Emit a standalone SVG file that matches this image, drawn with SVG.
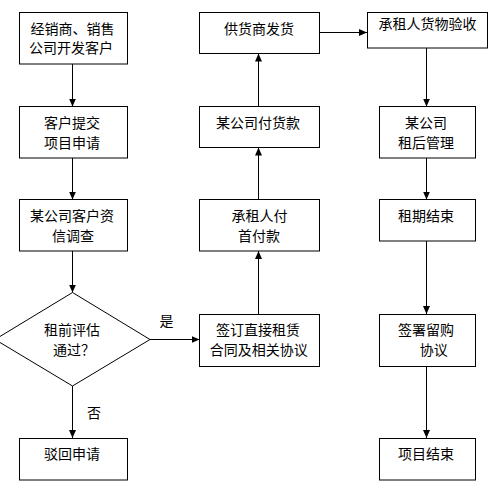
<svg xmlns="http://www.w3.org/2000/svg" width="501" height="496" viewBox="0 0 501 496">
<style>
.box{fill:#fff;stroke:#000;stroke-width:1}
.t{font-family:"Noto Sans CJK SC","Noto Sans",sans-serif;font-size:14px;fill:#000;text-anchor:middle}
.c{stroke:#000;stroke-width:1;fill:none;marker-end:url(#ah)}
</style>
<defs>
<marker id="ah" markerUnits="userSpaceOnUse" markerWidth="8" markerHeight="7" refX="8" refY="3.5" orient="auto">
<path d="M0,0 L8,3.5 L0,7 z" fill="#000"/>
</marker>
</defs>
<rect width="501" height="496" fill="#fff"/>
<g id="connectors">
<line class="c" x1="72.5" y1="64" x2="72.5" y2="106.5"/>
<line class="c" x1="72.5" y1="158" x2="72.5" y2="199.5"/>
<line class="c" x1="72.5" y1="251" x2="72.5" y2="292.5"/>
<line class="c" x1="72.5" y1="386" x2="72.5" y2="438"/>
<line class="c" x1="150" y1="339.5" x2="199.5" y2="339.5"/>
<line class="c" x1="258.5" y1="314" x2="258.5" y2="251"/>
<line class="c" x1="258.5" y1="199.5" x2="258.5" y2="147.5"/>
<line class="c" x1="258.5" y1="106.5" x2="258.5" y2="53.5"/>
<line class="c" x1="320" y1="32.5" x2="367" y2="32.5"/>
<line class="c" x1="426.5" y1="48" x2="426.5" y2="106.5"/>
<line class="c" x1="426.5" y1="158" x2="426.5" y2="199.5"/>
<line class="c" x1="426.5" y1="241" x2="426.5" y2="314"/>
<line class="c" x1="426.5" y1="366.5" x2="426.5" y2="438"/>
<text class="t" x="166.5" y="325.5">是</text>
<text class="t" x="94" y="417.5">否</text>
</g>
<g id="n1"><rect class="box" x="19.5" y="12.5" width="108" height="51.5"/>
<text class="t" x="72.5" y="34.3">经销商、销售</text><text class="t" x="71" y="53.3">公司开发客户</text></g>
<g id="n2"><rect class="box" x="19.5" y="106.5" width="108" height="51.5"/>
<text class="t" x="72" y="127.7">客户提交</text><text class="t" x="72" y="147.7">项目申请</text></g>
<g id="n3"><rect class="box" x="19.5" y="199.5" width="108" height="51.5"/>
<text class="t" x="72" y="221">某公司客户资</text><text class="t" x="73" y="241">信调查</text></g>
<g id="n4"><polygon class="box" points="72.5,292.5 150,339.5 72.5,386 -5,339.5"/>
<text class="t" x="72" y="335">租前评估</text><text class="t" x="74" y="355">通过？</text></g>
<g id="n5"><rect class="box" x="19.5" y="438.5" width="108" height="41.5"/>
<text class="t" x="72" y="459">驳回申请</text></g>
<g id="n6"><rect class="box" x="199.5" y="12.5" width="120" height="41"/>
<text class="t" x="259" y="34.3">供货商发货</text></g>
<g id="n7"><rect class="box" x="199.5" y="106.5" width="120" height="41"/>
<text class="t" x="258" y="127.7">某公司付货款</text></g>
<g id="n8"><rect class="box" x="199.5" y="199.5" width="120" height="51.5"/>
<text class="t" x="259.5" y="221">承租人付</text><text class="t" x="259" y="241">首付款</text></g>
<g id="n9"><rect class="box" x="199.5" y="314.5" width="120" height="52"/>
<text class="t" x="258" y="335">签订直接租赁</text><text class="t" x="258.7" y="355">合同及相关协议</text></g>
<g id="n10"><rect class="box" x="367.5" y="12.5" width="120" height="35.5"/>
<text class="t" x="427.5" y="29">承租人货物验收</text></g>
<g id="n11"><rect class="box" x="379.5" y="106.5" width="96" height="51.5"/>
<text class="t" x="426" y="127.7">某公司</text><text class="t" x="426" y="147.7">租后管理</text></g>
<g id="n12"><rect class="box" x="379.5" y="199.5" width="96" height="41.5"/>
<text class="t" x="426" y="221">租期结束</text></g>
<g id="n13"><rect class="box" x="379.5" y="314.5" width="96" height="52"/>
<text class="t" x="426" y="335">签署留购</text><text class="t" x="433.7" y="355">协议</text></g>
<g id="n14"><rect class="box" x="379.5" y="438.5" width="96" height="41.5"/>
<text class="t" x="426" y="459">项目结束</text></g>
</svg>
